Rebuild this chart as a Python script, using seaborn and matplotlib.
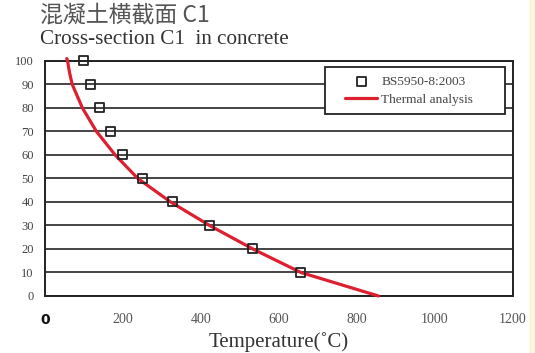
import numpy as np
import pandas as pd
import matplotlib
matplotlib.use('Agg')
import matplotlib.pyplot as plt
from matplotlib.patches import Rectangle
import seaborn as sns

sns.set_style('white')
plt.rcParams['font.family'] = ['Liberation Serif', 'DejaVu Serif']

# BS5950-8:2003 points (depth vs temperature)
bs_depth = [100, 90, 80, 70, 60, 50, 40, 30, 20, 10]
bs_temp = [99, 118, 140, 168, 200, 249, 328, 422, 533, 654]

# thermal analysis curve
th_depth = [101, 100, 95, 90, 80, 70, 60, 50, 40, 30, 20, 10, 0]
th_temp = [56, 58, 63, 70, 96, 132, 180, 238, 322, 422, 533, 656, 855]

x_ticks = [0, 200, 400, 600, 800, 1000, 1200]
y_ticks = [0, 10, 20, 30, 40, 50, 60, 70, 80, 90, 100]

df_bs = pd.DataFrame({'temp': bs_temp, 'depth': bs_depth})
df_th = pd.DataFrame({'temp': th_temp, 'depth': th_depth})

fig = plt.figure(figsize=(5.35, 3.53), dpi=100)
ax = fig.add_axes([0.084, 0.1615, 0.875, 0.666])

sns.lineplot(data=df_th, x='temp', y='depth', ax=ax, color='#dd2030', lw=2.3,
             sort=False, label='Thermal analysis', zorder=3, clip_on=False)
sns.scatterplot(data=df_bs, x='temp', y='depth', ax=ax, marker='s', s=42,
                facecolor='none', edgecolor='#222222', linewidth=1.3,
                label='BS5950-8:2003', zorder=4, clip_on=False)

ax.set_xlim(0, 1200)
ax.set_ylim(0, 100)
ax.set_xticks(x_ticks, [str(t) for t in x_ticks])
ax.set_yticks(y_ticks, [str(t) for t in y_ticks])
ax.tick_params(axis='y', direction='out', length=4, width=1.2, color='#222',
               labelsize=9, labelcolor='#444', pad=4)
ax.tick_params(axis='x', direction='inout', length=6, width=1.2, color='#222',
               labelsize=10, labelcolor='#555', pad=9)
lbl0 = ax.get_xticklabels()[0]
lbl0.set_fontfamily('DejaVu Sans')
lbl0.set_fontweight('bold')
lbl0.set_fontsize(10)
lbl0.set_color('#111')

ax.yaxis.grid(True, color='#444444', lw=1.4)
ax.set_axisbelow(True)
for sp in ax.spines.values():
    sp.set_color('#222222')
    sp.set_linewidth(1.4)

ax.set_xlabel('Temperature(˚C)', fontsize=15, color='#333', labelpad=4)
ax.set_ylabel('')

# legend box
ax.add_patch(Rectangle((0.598, 0.774), 0.385, 0.200, transform=ax.transAxes,
                       facecolor='white', edgecolor='#222222', lw=1.3,
                       zorder=5, clip_on=False))
h, l = ax.get_legend_handles_labels()
leg = ax.legend(h[::-1], l[::-1], loc='center', bbox_to_anchor=(0.778, 0.874),
                frameon=False, fontsize=9.6, handlelength=2.4,
                handletextpad=0.3, labelspacing=0.45)
leg.set_zorder(6)
for t in leg.get_texts():
    t.set_color('#444')

fig.text(40 / 535, 1 - 15 / 353, '混凝土横截面 C1', family=['Noto Sans CJK SC', 'DejaVu Sans'],
         fontsize=16.5, color='#555', va='center', ha='left')
fig.text(40 / 535, 1 - 39 / 353, 'Cross-section C1  in concrete', fontsize=15.2,
         color='#333', va='center', ha='left')

fig.patches.append(Rectangle((529 / 535, 0), 6 / 535, 1, transform=fig.transFigure,
                             facecolor='#fdf6dc', edgecolor='none'))

fig.savefig('out.png', dpi=100)
